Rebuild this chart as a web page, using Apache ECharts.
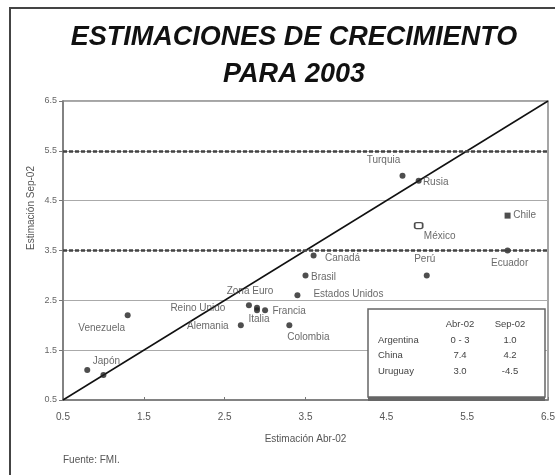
<!DOCTYPE html>
<html>
<head>
<meta charset="utf-8">
<script src="https://cdn.jsdelivr.net/npm/echarts@6/dist/echarts.min.js"></script>
<style>
  html, body { margin: 0; padding: 0; background: #fff; }
  #chart { width: 555px; height: 475px; }
</style>
</head>
<body>
<div id="chart"></div>
<script>
// country estimates: x = Abr-02, y = Sep-02
const paises = ['Turquia', 'Rusia', 'Chile', 'México', 'Ecuador', 'Perú', 'Canadá', 'Brasil',
  'Estados Unidos', 'Reino Unido', 'Zona Euro', 'Italia', 'Francia', 'Alemania', 'Colombia',
  'Venezuela', '', 'Japón']
const abr02 = [4.7, 4.9, 6.0, 4.9, 6.0, 5.0, 3.6, 3.5, 3.4, 2.8, 2.9, 2.9, 3.0, 2.7, 3.3, 1.3, 0.8, 1.0]
const sep02 = [5.0, 4.9, 4.2, 4.0, 3.5, 3.0, 3.4, 3.0, 2.6, 2.4, 2.35, 2.3, 2.3, 2.0, 2.0, 2.2, 1.1, 1.0]
// label offsets (px, from point to label centre)
const offsets = [[-19, -16], [17, 2], [17, 0], [21, 11], [2, 13], [-2, -16], [29, 3], [18, 2],
  [51, -1], [-51, 3], [-7, -17], [2, 9], [24, 1], [-33, 1], [19, 12], [-26, 13], [0, 0], [3, -14]]

const ticks = [0.5, 1.5, 2.5, 3.5, 4.5, 5.5, 6.5]
const lineasMarcadas = [5.5, 3.5]

const tablaCab = ['', 'Abr-02', 'Sep-02']
const tabla = [
  ['Argentina', '0 - 3', '1.0'],
  ['China', '7.4', '4.2'],
  ['Uruguay', '3.0', '-4.5']
]

const chart = echarts.init(document.getElementById('chart'))

const puntos = paises.map((p, i) => {
  let symbol = 'circle'
  let itemStyle = { color: '#222' }
  if (p === 'Chile') symbol = 'rect'
  if (p === 'México') {
    symbol = 'roundRect'
    itemStyle = { color: '#fff', borderColor: '#222', borderWidth: 1.5 }
  }
  return {
    name: p,
    value: [abr02[i], sep02[i]],
    symbol: symbol,
    symbolSize: p === 'México' ? [8, 6] : 6,
    itemStyle: itemStyle,
    label: { offset: offsets[i] }
  }
})

// table inside the plot
const tx = [378, 460, 510]
const ty = [324, 340, 355, 371]
const tablaGraf = [
  { type: 'rect', shape: { x: 368, y: 395, width: 177, height: 6 }, style: { fill: '#666' }, z: 10 },
  { type: 'rect', shape: { x: 368, y: 309, width: 177, height: 88 },
    style: { fill: '#fff', stroke: '#666', lineWidth: 1.5 }, z: 10 }
]
const filas = [tablaCab].concat(tabla)
filas.forEach((fila, r) => {
  fila.forEach((txt, c) => {
    tablaGraf.push({
      type: 'text', x: tx[c], y: ty[r], z: 11,
      style: {
        text: txt, fill: '#444', fontSize: 9.5, fontFamily: 'Liberation Sans',
        align: c === 0 ? 'left' : 'center', verticalAlign: 'middle'
      }
    })
  })
})

chart.setOption({
  backgroundColor: '#fff',
  animation: false,
  title: {
    text: 'ESTIMACIONES DE CRECIMIENTO\nPARA 2003',
    left: 289,
    top: 14,
    textAlign: 'center',
    textStyle: {
      fontFamily: 'Liberation Sans', fontSize: 27, fontWeight: 'bold', fontStyle: 'italic',
      color: '#111', lineHeight: 37
    }
  },
  grid: {
    left: 63, right: 7, top: 101, bottom: 75,
    outerBoundsMode: 'none',
    show: true, borderColor: '#888', borderWidth: 1.5
  },
  xAxis: {
    type: 'value', min: 0.5, max: 6.5, interval: 1,
    name: 'Estimación Abr-02', nameLocation: 'middle', nameGap: 34,
    nameTextStyle: { fontFamily: 'Liberation Sans', fontSize: 10, color: '#555' },
    axisLine: { lineStyle: { color: '#777', width: 1.5 } },
    axisTick: { show: true, length: 3, inside: true, lineStyle: { color: '#777' } },
    axisLabel: { fontFamily: 'Liberation Sans', fontSize: 10, color: '#555', margin: 12,
      formatter: v => v.toFixed(1) },
    splitLine: { show: false }
  },
  yAxis: {
    type: 'value', min: 0.5, max: 6.5, interval: 1,
    axisLine: { show: true, lineStyle: { color: '#777', width: 1.5 } },
    axisTick: { show: true, length: 4, lineStyle: { color: '#777' } },
    axisLabel: { fontFamily: 'Liberation Sans', fontSize: 9, color: '#666', margin: 6,
      formatter: v => v.toFixed(1) },
    splitLine: { show: true, lineStyle: { color: '#aaa', width: 1 } }
  },
  graphic: [
    { type: 'rect', shape: { x: 10, y: 8, width: 560, height: 480 },
      style: { fill: 'none', stroke: '#444', lineWidth: 2 }, silent: true },
    { type: 'text', x: 31, y: 208, rotation: Math.PI / 2,
      style: { text: 'Estimación Sep-02', fill: '#555', fontSize: 10, fontFamily: 'Liberation Sans',
        align: 'center', verticalAlign: 'middle' } },
    { type: 'text', x: 63, y: 460,
      style: { text: 'Fuente: FMI.', fill: '#555', fontSize: 10, fontFamily: 'Liberation Sans',
        align: 'left', verticalAlign: 'middle' } }
  ].concat(tablaGraf),
  series: [
    {
      type: 'line',
      data: [[ticks[0], ticks[0]], [ticks[ticks.length - 1], ticks[ticks.length - 1]]],
      symbol: 'none',
      lineStyle: { color: '#111', width: 1.5 },
      z: 3,
      markLine: {
        silent: true, symbol: 'none', label: { show: false },
        lineStyle: { color: '#444', width: 2.5, type: [4, 2] },
        data: lineasMarcadas.map(v => ({ yAxis: v }))
      }
    },
    {
      type: 'scatter',
      data: puntos,
      z: 4,
      label: {
        show: true, position: 'inside', formatter: '{b}',
        fontFamily: 'Liberation Sans', fontSize: 10, color: '#444',
        align: 'center', verticalAlign: 'middle'
      }
    }
  ]
})
</script>
</body>
</html>
